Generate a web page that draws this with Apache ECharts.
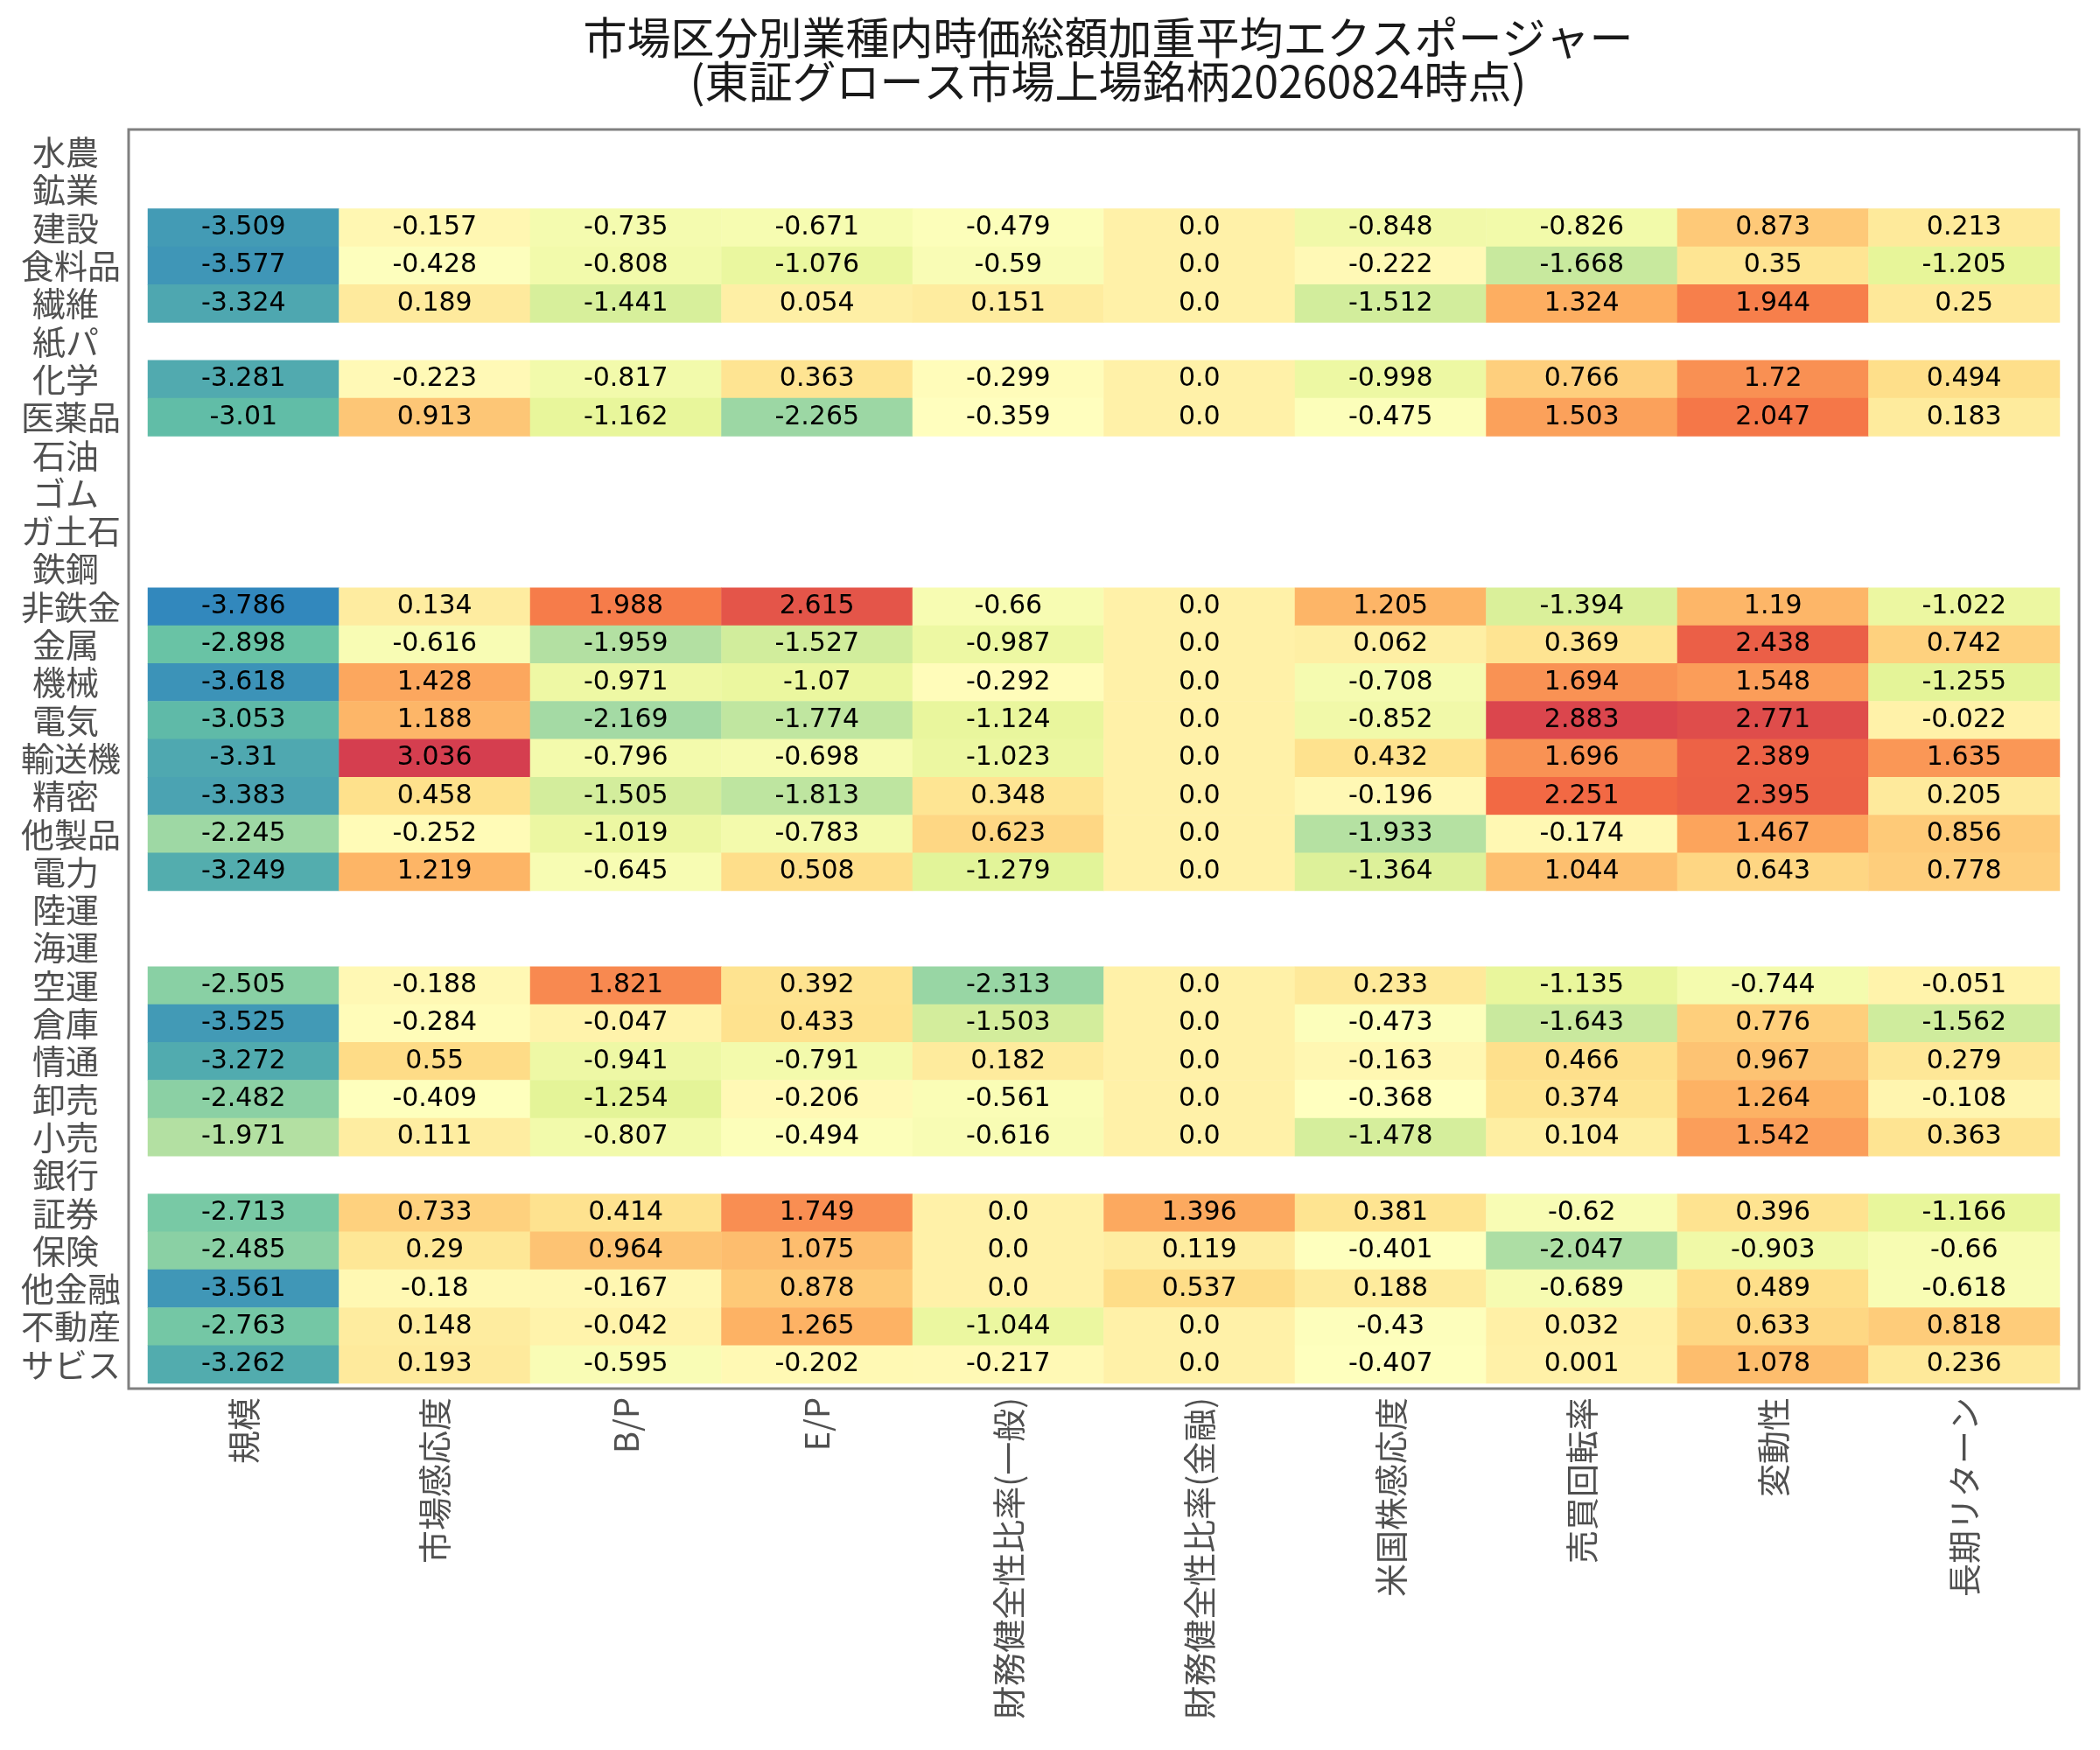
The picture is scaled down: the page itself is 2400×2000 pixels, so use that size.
<!DOCTYPE html>
<html>
<head>
    <meta charset="utf-8">
    <title>市場区分別業種内時価総額加重平均エクスポージャー</title>
    <script src="https://cdn.jsdelivr.net/npm/echarts@6.0.0/dist/echarts.min.js"></script>
    <style type="text/css">
        html, body {
            margin: 0;
            padding: 0;
            background: #fff;
        }

        #heatmap-chart {
            width: 2400px;
            height: 2000px;
        }
    </style>
</head>
<body>
    <div id="heatmap-chart"></div>
    <script>
        // 業種（上から順）
        var industries = ['水農', '鉱業', '建設', '食料品', '繊維', '紙パ', '化学', '医薬品', '石油', 'ゴム',
            'ガ土石', '鉄鋼', '非鉄金', '金属', '機械', '電気', '輸送機', '精密', '他製品', '電力',
            '陸運', '海運', '空運', '倉庫', '情通', '卸売', '小売', '銀行', '証券', '保険',
            '他金融', '不動産', 'サビス'];

        // ファクター（左から順）
        var factors = ['規模', '市場感応度', 'B/P', 'E/P', '財務健全性比率(一般)', '財務健全性比率(金融)',
            '米国株感応度', '売買回転率', '変動性', '長期リターン'];

        // 各ファクターの値（industries と同じ順、null は該当銘柄なし）
        var size = [null, null, -3.509, -3.577, -3.324, null, -3.281, -3.01, null, null,
            null, null, -3.786, -2.898, -3.618, -3.053, -3.31, -3.383, -2.245, -3.249,
            null, null, -2.505, -3.525, -3.272, -2.482, -1.971, null, -2.713, -2.485,
            -3.561, -2.763, -3.262];
        var marketBeta = [null, null, -0.157, -0.428, 0.189, null, -0.223, 0.913, null, null,
            null, null, 0.134, -0.616, 1.428, 1.188, 3.036, 0.458, -0.252, 1.219,
            null, null, -0.188, -0.284, 0.55, -0.409, 0.111, null, 0.733, 0.29,
            -0.18, 0.148, 0.193];
        var bp = [null, null, -0.735, -0.808, -1.441, null, -0.817, -1.162, null, null,
            null, null, 1.988, -1.959, -0.971, -2.169, -0.796, -1.505, -1.019, -0.645,
            null, null, 1.821, -0.047, -0.941, -1.254, -0.807, null, 0.414, 0.964,
            -0.167, -0.042, -0.595];
        var ep = [null, null, -0.671, -1.076, 0.054, null, 0.363, -2.265, null, null,
            null, null, 2.615, -1.527, -1.07, -1.774, -0.698, -1.813, -0.783, 0.508,
            null, null, 0.392, 0.433, -0.791, -0.206, -0.494, null, 1.749, 1.075,
            0.878, 1.265, -0.202];
        var finGeneral = [null, null, -0.479, -0.59, 0.151, null, -0.299, -0.359, null, null,
            null, null, -0.66, -0.987, -0.292, -1.124, -1.023, 0.348, 0.623, -1.279,
            null, null, -2.313, -1.503, 0.182, -0.561, -0.616, null, 0.0, 0.0,
            0.0, -1.044, -0.217];
        var finFinancial = [null, null, 0.0, 0.0, 0.0, null, 0.0, 0.0, null, null,
            null, null, 0.0, 0.0, 0.0, 0.0, 0.0, 0.0, 0.0, 0.0,
            null, null, 0.0, 0.0, 0.0, 0.0, 0.0, null, 1.396, 0.119,
            0.537, 0.0, 0.0];
        var usBeta = [null, null, -0.848, -0.222, -1.512, null, -0.998, -0.475, null, null,
            null, null, 1.205, 0.062, -0.708, -0.852, 0.432, -0.196, -1.933, -1.364,
            null, null, 0.233, -0.473, -0.163, -0.368, -1.478, null, 0.381, -0.401,
            0.188, -0.43, -0.407];
        var turnover = [null, null, -0.826, -1.668, 1.324, null, 0.766, 1.503, null, null,
            null, null, -1.394, 0.369, 1.694, 2.883, 1.696, 2.251, -0.174, 1.044,
            null, null, -1.135, -1.643, 0.466, 0.374, 0.104, null, -0.62, -2.047,
            -0.689, 0.032, 0.001];
        var volatility = [null, null, 0.873, 0.35, 1.944, null, 1.72, 2.047, null, null,
            null, null, 1.19, 2.438, 1.548, 2.771, 2.389, 2.395, 1.467, 0.643,
            null, null, -0.744, 0.776, 0.967, 1.264, 1.542, null, 0.396, -0.903,
            0.489, 0.633, 1.078];
        var longReturn = [null, null, 0.213, -1.205, 0.25, null, 0.494, 0.183, null, null,
            null, null, -1.022, 0.742, -1.255, -0.022, 1.635, 0.205, 0.856, 0.778,
            null, null, -0.051, -1.562, 0.279, -0.108, 0.363, null, -1.166, -0.66,
            -0.618, 0.818, 0.236];

        var columns = [size, marketBeta, bp, ep, finGeneral, finFinancial, usBeta, turnover, volatility, longReturn];

        // 描画領域
        var cellLeft = 169, cellTop = 152, cellWidth = 2185, cellHeight = 1429;
        var frameLeft = 147, frameTop = 148, frameRight = 2376, frameBottom = 1587;
        var labelColor = '#505050';
        var cjkFont = '"Noto Sans CJK JP", "Noto Sans", sans-serif';

        bindData();

        function fmt(v) {
            return Number.isInteger(v) ? v.toFixed(1) : String(v);
        }

        function bindData() {
            var heatData = [];
            var vmin = Infinity, vmax = -Infinity;
            for (var c = 0; c < columns.length; c++) {
                for (var r = 0; r < industries.length; r++) {
                    var v = columns[c][r];
                    if (v === null) continue;
                    heatData.push([c, r, v]);
                    if (v < vmin) vmin = v;
                    if (v > vmax) vmax = v;
                }
            }

            var chart = echarts.init(document.getElementById('heatmap-chart'), null, {
                renderer: 'canvas',
                devicePixelRatio: 1
            });
            var option = {
                backgroundColor: '#ffffff',
                animation: false,
                title: {
                    text: '市場区分別業種内時価総額加重平均エクスポージャー\n(東証グロース市場上場銘柄20260824時点)',
                    left: (frameLeft + frameRight) / 2,
                    top: 13,
                    textAlign: 'center',
                    textStyle: {
                        fontFamily: cjkFont,
                        fontSize: 50,
                        fontWeight: 'normal',
                        lineHeight: 50,
                        color: '#1a1a1a'
                    }
                },
                grid: {
                    left: cellLeft,
                    top: cellTop,
                    width: cellWidth,
                    height: cellHeight,
                    containLabel: false
                },
                xAxis: {
                    type: 'category',
                    data: factors,
                    position: 'bottom',
                    axisLine: { show: false },
                    axisTick: { show: false },
                    splitLine: { show: false },
                    axisLabel: {
                        rotate: 90,
                        margin: 16,
                        interval: 0,
                        fontFamily: cjkFont,
                        fontSize: 38,
                        color: labelColor
                    }
                },
                yAxis: {
                    type: 'category',
                    data: industries,
                    inverse: true,
                    axisLine: { show: false },
                    axisTick: { show: false },
                    splitLine: { show: false },
                    axisLabel: {
                        margin: 31,
                        interval: 0,
                        fontFamily: cjkFont,
                        fontSize: 38,
                        color: labelColor,
                        formatter: function (name) {
                            return name.length === 2 ? '{two|' + name + '}' : name;
                        },
                        rich: {
                            two: {
                                fontFamily: cjkFont,
                                fontSize: 38,
                                color: labelColor,
                                padding: [0, 25, 0, 0]
                            }
                        }
                    }
                },
                visualMap: {
                    show: false,
                    type: 'continuous',
                    min: vmin,
                    max: vmax,
                    dimension: 2,
                    inRange: {
                        color: ['#3288bd', '#66c2a5', '#abdda4', '#e6f598', '#ffffbf',
                            '#fee08b', '#fdae61', '#f46d43', '#d53e4f']
                    }
                },
                graphic: [{
                    type: 'rect',
                    silent: true,
                    z: 10,
                    shape: {
                        x: frameLeft,
                        y: frameTop,
                        width: frameRight - frameLeft,
                        height: frameBottom - frameTop
                    },
                    style: {
                        fill: 'none',
                        stroke: '#808080',
                        lineWidth: 3
                    }
                }],
                series: [{
                    name: 'エクスポージャー',
                    type: 'heatmap',
                    data: heatData,
                    label: {
                        show: true,
                        fontFamily: '"DejaVu Sans", sans-serif',
                        fontSize: 30,
                        color: '#000000',
                        formatter: function (p) {
                            return fmt(p.value[2]);
                        }
                    },
                    itemStyle: {
                        borderWidth: 0
                    },
                    emphasis: { disabled: true }
                }]
            };
            chart.setOption(option);
        }
    </script>
</body>
</html>
